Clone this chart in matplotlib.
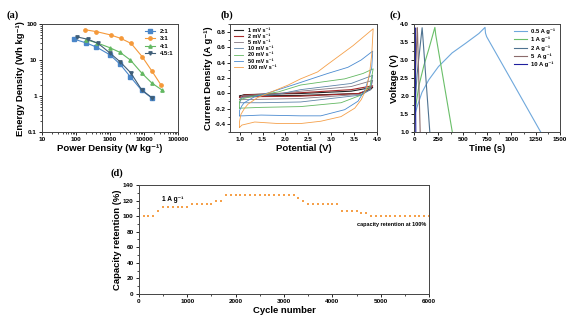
import matplotlib
matplotlib.use('Agg')
import matplotlib.pyplot as plt
import matplotlib.ticker as mticker
import numpy as np

plt.rcParams['font.family'] = ['Liberation Sans', 'DejaVu Sans']
plt.rcParams['font.weight'] = 'bold'
plt.rcParams['axes.labelweight'] = 'bold'
plt.rcParams['axes.linewidth'] = 0.7
plt.rcParams['axes.edgecolor'] = '#444444'
for ax_name in ('xtick', 'ytick'):
    plt.rcParams[ax_name + '.direction'] = 'out'
    plt.rcParams[ax_name + '.major.size'] = 2.2
    plt.rcParams[ax_name + '.minor.size'] = 1.2
    plt.rcParams[ax_name + '.major.width'] = 0.6
    plt.rcParams[ax_name + '.minor.width'] = 0.5
    plt.rcParams[ax_name + '.labelsize'] = 4.6
    plt.rcParams[ax_name + '.major.pad'] = 1.5

# ---- (a) Ragone data ----
p_21 = [90, 200, 400, 1000, 2000, 4000, 8500, 17000]
e_21 = [38, 30, 23, 14, 7.6, 3.4, 1.45, 0.88]
p_31 = [180, 400, 1050, 2100, 4200, 8800, 17000, 32000]
e_31 = [70, 62, 50, 40, 29, 12.5, 5.0, 2.0]
p_41 = [200, 420, 1000, 2000, 4000, 8500, 17000, 33000]
e_41 = [37, 30, 22, 16.3, 10, 4.4, 2.3, 1.5]
p_451 = [110, 230, 450, 1000, 2000, 4100, 8500, 17000]
e_451 = [44, 37.6, 29, 15.7, 8.9, 4.4, 1.5, 0.9]

# ---- (b) CV loops (potential V, current A/g) ----
cv1_v = [1.00, 1.10, 1.84, 2.33, 3.43, 3.90, 3.85, 3.60, 2.33, 1.47, 1.03, 1.00]
cv1_i = [-0.035, -0.015, -0.005, 0.0, 0.03, 0.08, 0.05, 0.0, -0.025, -0.03, -0.03, -0.035]
cv2_v = [1.00, 1.10, 1.84, 2.33, 3.43, 3.90, 3.85, 3.60, 2.33, 1.47, 1.03, 1.00]
cv2_i = [-0.05, -0.02, 0.0, 0.01, 0.05, 0.10, 0.06, 0.0, -0.035, -0.04, -0.045, -0.05]
cv5_v = [1.00, 1.05, 1.84, 2.33, 3.43, 3.90, 3.85, 3.65, 2.33, 1.47, 1.03, 1.00]
cv5_i = [-0.08, -0.03, 0.0, 0.03, 0.09, 0.17, 0.05, -0.01, -0.065, -0.075, -0.08, -0.08]
cv10_v = [1.00, 1.05, 1.84, 2.33, 3.43, 3.90, 3.85, 3.65, 2.33, 1.47, 1.03, 1.00]
cv10_i = [-0.12, -0.05, -0.01, 0.05, 0.13, 0.235, 0.05, -0.02, -0.11, -0.12, -0.12, -0.12]
cv20_v = [1.00, 1.00, 1.05, 1.33, 1.84, 2.33, 2.80, 3.29, 3.69, 3.91, 3.84, 3.65, 3.21, 2.33, 1.47, 1.03, 1.00]
cv20_i = [-0.19, -0.10, -0.07, -0.03, 0.02, 0.11, 0.15, 0.19, 0.26, 0.32, 0.09, -0.02, -0.12, -0.17, -0.18, -0.19, -0.19]
cv50_v = [1.00, 1.00, 1.05, 1.10, 1.33, 1.69, 2.21, 2.92, 3.36, 3.65, 3.90, 3.88, 3.80, 3.73, 3.58, 3.29, 2.77, 2.33, 1.47, 1.07, 1.00]
cv50_i = [-0.29, -0.22, -0.16, -0.12, -0.04, 0.02, 0.12, 0.26, 0.34, 0.435, 0.55, 0.34, 0.17, 0.045, -0.10, -0.21, -0.29, -0.29, -0.28, -0.29, -0.29]
cv100_v = [1.00, 1.00, 1.03, 1.10, 1.18, 1.40, 1.69, 2.06, 2.33, 2.70, 2.90, 3.47, 3.91, 3.88, 3.84, 3.77, 3.65, 3.51, 3.21, 2.77, 2.33, 1.84, 1.33, 1.05, 1.00]
cv100_i = [-0.44, -0.36, -0.27, -0.20, -0.14, -0.05, 0.02, 0.11, 0.19, 0.28, 0.37, 0.62, 0.84, 0.51, 0.30, 0.07, -0.08, -0.19, -0.30, -0.36, -0.39, -0.39, -0.37, -0.41, -0.44]

# ---- (c) GCD curves (time s, voltage V) ----
gcd05_t = [0, 10, 30, 80, 150, 250, 390, 530, 665, 728, 733, 745, 1020, 1300]
gcd05_v = [1.3, 1.5, 1.7, 2.1, 2.45, 2.82, 3.2, 3.47, 3.74, 3.91, 3.75, 3.65, 2.34, 1.0]
gcd1_t = [0, 15, 50, 100, 150, 213, 222, 392]
gcd1_v = [1.0, 1.7, 2.3, 2.85, 3.3, 3.91, 3.7, 1.0]
gcd2_t = [0, 10, 30, 82, 88, 161]
gcd2_v = [1.0, 1.8, 2.6, 3.9, 3.7, 1.0]
gcd5_t = [0, 5, 15, 32, 35, 62]
gcd5_v = [1.0, 1.8, 2.7, 3.9, 3.75, 1.0]
gcd10_t = [0, 3, 8, 17]
gcd10_v = [1.0, 2.2, 3.9, 1.0]

# ---- (d) cycling ----
cycles = np.arange(100, 6001, 100)
retention = ([100] * 3 + [107] + [112] * 6 + [115] * 5 + [119] * 2 + [127] * 15
             + [123, 119] + [115] * 7 + [107] * 4 + [103.5] * 2 + [100] * 13)

fig = plt.figure(figsize=(5.76, 3.22), dpi=100)
lab_kw = dict(fontsize=6.8, fontweight='bold')
panel_kw = dict(fontsize=7.5, fontweight='bold', family='Liberation Serif')

# (a)
ax = fig.add_axes([0.073, 0.590, 0.236, 0.335])
ax.plot(p_21, e_21, '-s', color='#4a86c8', lw=0.8, ms=2.4, label='2:1')
ax.plot(p_31, e_31, '-o', color='#f5993a', lw=0.8, ms=2.4, label='3:1')
ax.plot(p_41, e_41, '-^', color='#63b862', lw=0.8, ms=2.4, label='4:1')
ax.plot(p_451, e_451, '-v', color='#3f5e78', lw=0.8, ms=2.4, label='4.5:1')
ax.set_xscale('log')
ax.set_yscale('log')
ax.set_xlim(10, 100000)
ax.set_ylim(0.1, 100)
ax.set_xticks([10, 100, 1000, 10000, 100000])
ax.set_xticklabels(['10', '100', '1000', '10000', '100000'])
ax.set_yticks([0.1, 1, 10, 100])
ax.set_yticklabels(['0.1', '1', '10', '100'])
ax.xaxis.set_minor_formatter(mticker.NullFormatter())
ax.yaxis.set_minor_formatter(mticker.NullFormatter())
ax.set_xlabel('Power Density (W kg⁻¹)', labelpad=1, **lab_kw)
ax.set_ylabel('Energy Density (Wh kg⁻¹)', labelpad=1, **lab_kw)
ax.legend(loc='upper right', frameon=False, fontsize=4.3, handlelength=1.6,
          labelspacing=0.35, borderaxespad=0.4)
fig.text(0.012, 0.945, '(a)', **panel_kw)

# (b)
ax = fig.add_axes([0.400, 0.590, 0.255, 0.335])
ax.plot(cv1_v, cv1_i, color='#222222', lw=0.8, label='1 mV s⁻¹')
ax.plot(cv2_v, cv2_i, color='#a52a2a', lw=0.8, label='2 mV s⁻¹')
ax.plot(cv5_v, cv5_i, color='#857883', lw=0.6, label='5 mV s⁻¹')
ax.plot(cv10_v, cv10_i, color='#5f84a8', lw=0.6, label='10 mV s⁻¹')
ax.plot(cv20_v, cv20_i, color='#63b862', lw=0.6, label='20 mV s⁻¹')
ax.plot(cv50_v, cv50_i, color='#4a8ad0', lw=0.6, label='50 mV s⁻¹')
ax.plot(cv100_v, cv100_i, color='#f5a04a', lw=0.6, label='100 mV s⁻¹')
ax.set_xlim(0.8, 4.0)
ax.set_ylim(-0.5, 0.9)
ax.set_xticks([1.0, 1.5, 2.0, 2.5, 3.0, 3.5, 4.0])
ax.xaxis.set_minor_locator(mticker.MultipleLocator(0.25))
ax.set_yticks([-0.4, -0.2, 0.0, 0.2, 0.4, 0.6, 0.8])
ax.yaxis.set_minor_locator(mticker.MultipleLocator(0.1))
ax.xaxis.set_major_formatter(mticker.FormatStrFormatter('%.1f'))
ax.yaxis.set_major_formatter(mticker.FormatStrFormatter('%.1f'))
ax.set_xlabel('Potential (V)', labelpad=1, **lab_kw)
ax.set_ylabel('Current Density (A g⁻¹)', labelpad=1, **lab_kw)
ax.legend(loc='upper left', frameon=False, fontsize=4.0, handlelength=1.6,
          labelspacing=0.2, borderaxespad=0.3)
fig.text(0.383, 0.945, '(b)', **panel_kw)

# (c)
ax = fig.add_axes([0.719, 0.590, 0.2535, 0.335])
ax.plot(gcd05_t, gcd05_v, color='#6fa8dc', lw=0.8, label='0.5 A g⁻¹')
ax.plot(gcd1_t, gcd1_v, color='#6abf69', lw=0.8, label='1 A g⁻¹')
ax.plot(gcd2_t, gcd2_v, color='#4f7391', lw=0.8, label='2 A g⁻¹')
ax.plot(gcd5_t, gcd5_v, color='#8b6b6b', lw=0.8, label='5  A g⁻¹')
ax.plot(gcd10_t, gcd10_v, color='#1f1f9e', lw=0.8, label='10 A g⁻¹')
ax.set_xlim(0, 1500)
ax.set_ylim(1.0, 4.0)
ax.set_xticks([0, 250, 500, 750, 1000, 1250, 1500])
ax.xaxis.set_minor_locator(mticker.MultipleLocator(125))
ax.set_yticks([1.0, 1.5, 2.0, 2.5, 3.0, 3.5, 4.0])
ax.yaxis.set_minor_locator(mticker.MultipleLocator(0.25))
ax.yaxis.set_major_formatter(mticker.FormatStrFormatter('%.1f'))
ax.set_xlabel('Time (s)', labelpad=1, **lab_kw)
ax.set_ylabel('Voltage (V)', labelpad=1, **lab_kw)
ax.legend(loc='upper right', frameon=False, fontsize=4.2, handlelength=2.2,
          labelspacing=0.45, borderaxespad=0.4)
fig.text(0.676, 0.945, '(c)', **panel_kw)

# (d)
ax = fig.add_axes([0.241, 0.087, 0.504, 0.3385])
ax.plot(cycles, retention, 's', color='#f5a04a', ms=1.6, mew=0)
ax.set_xlim(0, 6000)
ax.set_ylim(0, 140)
ax.set_xticks(range(0, 6001, 1000))
ax.xaxis.set_minor_locator(mticker.MultipleLocator(500))
ax.set_yticks(range(0, 141, 20))
ax.yaxis.set_minor_locator(mticker.MultipleLocator(10))
ax.set_xlabel('Cycle number', labelpad=1, **lab_kw)
ax.set_ylabel('Capacity retention (%)', labelpad=1, **lab_kw)
ax.text(470, 120, '1 A g⁻¹', fontsize=4.8, fontweight='bold')
ax.text(5950, 87, 'capacity retention at 100%', fontsize=4.0, fontweight='bold', ha='right')
fig.text(0.192, 0.455, '(d)', **panel_kw)

fig.savefig('out.png', dpi=100)
